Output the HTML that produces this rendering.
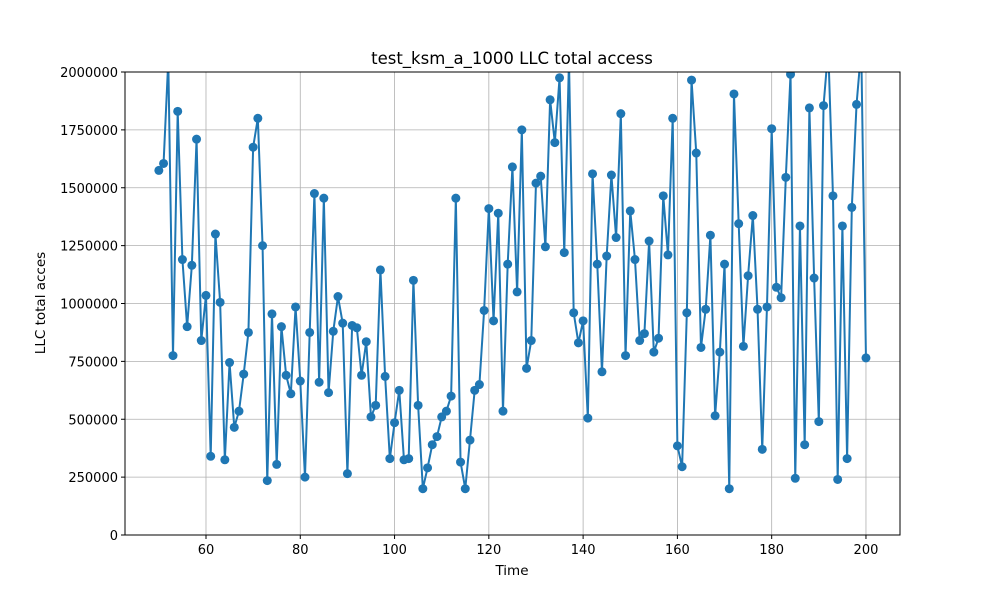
<!DOCTYPE html>
<html><head><meta charset="utf-8"><style>
body{margin:0;background:#fff;}
svg{display:block;font-family:"DejaVu Sans","Liberation Sans",sans-serif;}
</style></head><body>
<svg id="chart" width="1000" height="600">
<rect width="1000" height="600" fill="#fff"/>
<defs><clipPath id="clip"><rect x="125" y="72" width="775" height="463"/></clipPath></defs>
<g id="grid"></g>
<g id="series" clip-path="url(#clip)"></g>
<rect x="125" y="72" width="775" height="463" fill="none" stroke="#000" stroke-width="1"/>
<g id="ticks"></g>
<text x="512" y="64" text-anchor="middle" font-size="16.5">test_ksm_a_1000 LLC total access</text>
<text x="512" y="575" text-anchor="middle" font-size="13.5">Time</text>
<text transform="translate(45,303) rotate(-90)" text-anchor="middle" font-size="13.5">LLC total acces</text>
</svg>
<script>
const xStart = 50;
const values = [1575000,1605000,2050000,775000,1830000,1190000,900000,1165000,1710000,840000,
1035000,340000,1300000,1005000,325000,745000,465000,535000,695000,875000,
1675000,1800000,1250000,235000,955000,305000,900000,690000,610000,985000,
665000,250000,875000,1475000,660000,1455000,615000,880000,1030000,915000,
265000,905000,895000,690000,835000,510000,560000,1145000,685000,330000,
485000,625000,325000,330000,1100000,560000,200000,290000,390000,425000,
510000,535000,600000,1455000,315000,200000,410000,625000,650000,970000,
1410000,925000,1390000,535000,1170000,1590000,1050000,1750000,720000,840000,
1520000,1550000,1245000,1880000,1695000,1975000,1220000,2050000,960000,830000,
925000,505000,1560000,1170000,705000,1205000,1555000,1285000,1820000,775000,
1400000,1190000,840000,870000,1270000,790000,850000,1465000,1210000,1800000,
385000,295000,960000,1965000,1650000,810000,975000,1295000,515000,790000,
1170000,200000,1905000,1345000,815000,1120000,1380000,975000,370000,985000,
1755000,1070000,1025000,1545000,1990000,245000,1335000,390000,1845000,1110000,
490000,1855000,2100000,1465000,240000,1335000,330000,1415000,1860000,2100000,765000];
const xTicks = [60,80,100,120,140,160,180,200];
const yTicks = [0,250000,500000,750000,1000000,1250000,1500000,1750000,2000000];

const NS = "http://www.w3.org/2000/svg";
const xMin = 42.82, xMax = 207.22, L = 125, R = 900, T = 72, B = 535;
const xs = v => L + (v - xMin) / (xMax - xMin) * (R - L);
const ys = v => B - v / 2000000 * (B - T);
function mk(tag, attrs, parent){const e=document.createElementNS(NS,tag);for(const k in attrs)e.setAttribute(k,attrs[k]);parent.appendChild(e);return e;}
const grid=document.getElementById('grid'), ticks=document.getElementById('ticks'), series=document.getElementById('series');
xTicks.forEach(t=>{
  const x=xs(t);
  const g=mk('line',{x1:x,x2:x,y1:T,y2:B,stroke:'#b0b0b0','stroke-width':0.8},grid);
  
  
  mk('line',{x1:x,x2:x,y1:B,y2:B+4,stroke:'#000'},ticks);
  const tx=mk('text',{x:x,y:B+19,'text-anchor':'middle','font-size':13},ticks);
  tx.textContent=t;
  
  
});
yTicks.forEach(t=>{
  const y=ys(t);
  const g=mk('line',{x1:L,x2:R,y1:y,y2:y,stroke:'#b0b0b0','stroke-width':0.8},grid);
  
  
  mk('line',{x1:L-4,x2:L,y1:y,y2:y,stroke:'#000'},ticks);
  const tx=mk('text',{x:L-7,y:y+5,'text-anchor':'end','font-size':13},ticks);
  tx.textContent=t;
  
  
});
const pts=values.map((v,i)=>xs(xStart+i).toFixed(2)+','+ys(v).toFixed(2)).join(' ');
const line=mk('polyline',{points:pts,fill:'none',stroke:'#1f77b4','stroke-width':2,'stroke-linejoin':'round'},series);


values.forEach((v,i)=>{
  const c=mk('circle',{cx:xs(xStart+i),cy:ys(v),r:4.5,fill:'#1f77b4'},series);
  
  
});
</script>
</body></html>
